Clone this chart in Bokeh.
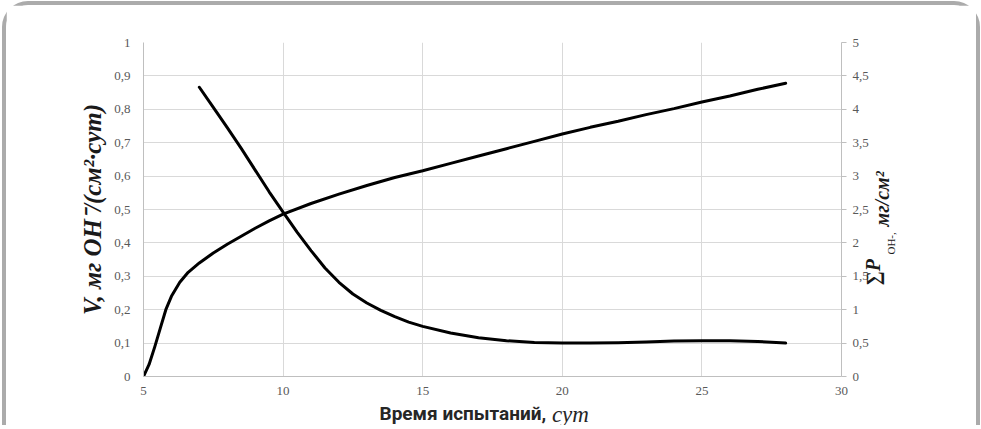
import math
from bokeh.plotting import figure
from bokeh.models import Range1d, LinearAxis, FixedTicker
from bokeh.embed import file_html
from bokeh.resources import INLINE

# ---- data ----
days_v = [7, 7.5, 8, 8.5, 9, 9.5, 10, 10.5, 11, 11.5, 12, 12.5, 13, 13.5, 14, 14.5,
          15, 16, 17, 18, 19, 20, 21, 22, 23, 24, 25, 26, 27, 28]
v_rate = [0.866, 0.806, 0.745, 0.683, 0.618, 0.553, 0.492, 0.432, 0.377, 0.325, 0.282,
          0.247, 0.220, 0.198, 0.179, 0.163, 0.150, 0.130, 0.116, 0.107, 0.102, 0.100,
          0.100, 0.101, 0.103, 0.106, 0.107, 0.107, 0.105, 0.100]

days_p = [5, 5.2, 5.4, 5.6, 5.8, 6, 6.3, 6.6, 7, 7.5, 8, 8.5, 9, 9.5, 10, 11, 12, 13,
          14, 15, 16, 17, 18, 19, 20, 21, 22, 23, 24, 25, 26, 27, 28]
p_sum = [0, 0.18, 0.44, 0.72, 1.00, 1.20, 1.41, 1.56, 1.70, 1.85, 1.98, 2.10, 2.22,
         2.33, 2.43, 2.59, 2.73, 2.86, 2.98, 3.08, 3.19, 3.30, 3.41, 3.52, 3.63, 3.73,
         3.82, 3.92, 4.01, 4.11, 4.20, 4.30, 4.39]

x_ticks = [5, 10, 15, 20, 25, 30]
left_ticks = [0, 0.1, 0.2, 0.3, 0.4, 0.5, 0.6, 0.7, 0.8, 0.9, 1.0]
left_tick_labels = ["0", "0,1", "0,2", "0,3", "0,4", "0,5", "0,6", "0,7", "0,8", "0,9", "1"]
right_ticks = [0, 0.5, 1.0, 1.5, 2.0, 2.5, 3.0, 3.5, 4.0, 4.5, 5.0]
right_tick_labels = ["0", "0,5", "1", "1,5", "2", "2,5", "3", "3,5", "4", "4,5", "5"]

x_title_main = "Время испытаний,"
x_title_unit = "сут"
left_title = "V, мг OH⁻/(см²·сут)"
right_title_main = "∑P"
right_title_sub = "OH-,"
right_title_unit = "мг/см²"

# ---- layout constants (page pixels of the plot frame in the reference) ----
FRAME_L, FRAME_R, FRAME_T, FRAME_B = 143, 838, 42, 376
GRID = "#d9d9d9"
AXIS = "#bfbfbf"
TICKTXT = "#595959"
TITLE = "#1a1a1a"

def xpos(px):   # page x -> day axis value (used only to place title pieces)
    return round(5 + (px - FRAME_L) / (FRAME_R - FRAME_L) * 25, 3)

def rpos(py):   # page y -> right axis value (used only to place title pieces)
    return round((FRAME_B - py) / (FRAME_B - FRAME_T) * 5, 3)

p = figure(width=975, height=424, output_backend="svg", toolbar_location=None,
           x_range=Range1d(5, 30), y_range=Range1d(0, 1),
           min_border_left=137, min_border_right=143, min_border_top=37,
           min_border_bottom=53)
p.styles = {"margin-left": "2px", "margin-top": "1px", "width": "978px",
            "border": "4px solid #ababab", "border-bottom": "none",
            "border-radius": "26px 26px 0 0"}
p.extra_y_ranges = {"right": Range1d(0, 5)}
p.outline_line_color = None
p.background_fill_color = "white"
p.border_fill_color = "white"

p.xaxis.ticker = FixedTicker(ticks=x_ticks)
p.yaxis.ticker = FixedTicker(ticks=left_ticks)
p.yaxis.major_label_overrides = dict(zip(left_ticks, left_tick_labels))
p.xgrid.ticker = FixedTicker(ticks=x_ticks)
p.ygrid.ticker = FixedTicker(ticks=left_ticks)
for g in (p.xgrid, p.ygrid):
    g.grid_line_color = GRID
    g.grid_line_width = 1

raxis = LinearAxis(y_range_name="right", ticker=FixedTicker(ticks=right_ticks))
raxis.major_label_overrides = dict(zip(right_ticks, right_tick_labels))
p.add_layout(raxis, "right")

xax, lax = p.xaxis[0], p.yaxis[0]
for ax in (xax, lax, raxis):
    ax.axis_line_color = AXIS
    ax.axis_line_width = 1
    ax.minor_tick_line_color = None
    ax.major_tick_in = 0
    ax.major_tick_out = 0
    ax.major_label_text_font = "Liberation Serif"
    ax.major_label_text_font_size = "13px"
    ax.major_label_text_color = TICKTXT
lax.major_label_standoff = 13
xax.major_label_standoff = 10
raxis.major_tick_out = 5
raxis.major_tick_line_color = AXIS
raxis.major_label_standoff = 6

# left title
lax.axis_label = left_title
lax.axis_label_text_font = "Liberation Serif"
lax.axis_label_text_font_style = "bold italic"
lax.axis_label_text_font_size = "25px"
lax.axis_label_text_color = TITLE
lax.axis_label_standoff = 5


def title_axis(side, labels, font, style, size, standoff, color=TITLE,
               orientation=None, range_name=None):
    """A bare axis that only carries text pieces as tick labels."""
    ticks = list(labels.keys())
    kw = {"ticker": FixedTicker(ticks=ticks)}
    if range_name:
        kw["y_range_name"] = range_name
    ax = LinearAxis(**kw)
    ax.major_label_overrides = labels
    if orientation is not None:
        ax.major_label_orientation = orientation
    ax.axis_line_color = None
    ax.major_tick_line_color = None
    ax.minor_tick_line_color = None
    ax.major_tick_out = 0
    ax.major_tick_in = 0
    ax.major_label_standoff = standoff
    ax.major_label_text_font = font
    ax.major_label_text_font_style = style
    ax.major_label_text_font_size = size
    ax.major_label_text_color = color
    p.add_layout(ax, side)
    return ax

# x title: bold sans part + italic serif unit on the same baseline
title_axis("below", {xpos(461): x_title_main}, "Roboto", "bold", "19px", 4,
           color="#262626")
title_axis("below", {xpos(568): x_title_unit}, "Liberation Serif", "italic", "23px",
           -26, color="#262626")

# right title (rotated, reading bottom to top)
title_axis("right", {rpos(285): right_title_main},
           "Liberation Serif", "bold italic", "20px", 2,
           orientation=math.pi / 2, range_name="right")
title_axis("right", {rpos(226): right_title_unit},
           "Liberation Serif", "bold italic", "20px", -16,
           orientation=math.pi / 2, range_name="right")
title_axis("right", {rpos(254): right_title_sub}, "Liberation Serif", "normal", "11px",
           -16, orientation=math.pi / 2, range_name="right")

# ---- curves ----
p.line(days_v, v_rate, line_color="black", line_width=3, line_join="round", line_cap="round")
p.line(days_p, p_sum, y_range_name="right", line_color="black", line_width=3,
       line_join="round", line_cap="round")

open("out.html", "w").write(file_html(p, INLINE))
